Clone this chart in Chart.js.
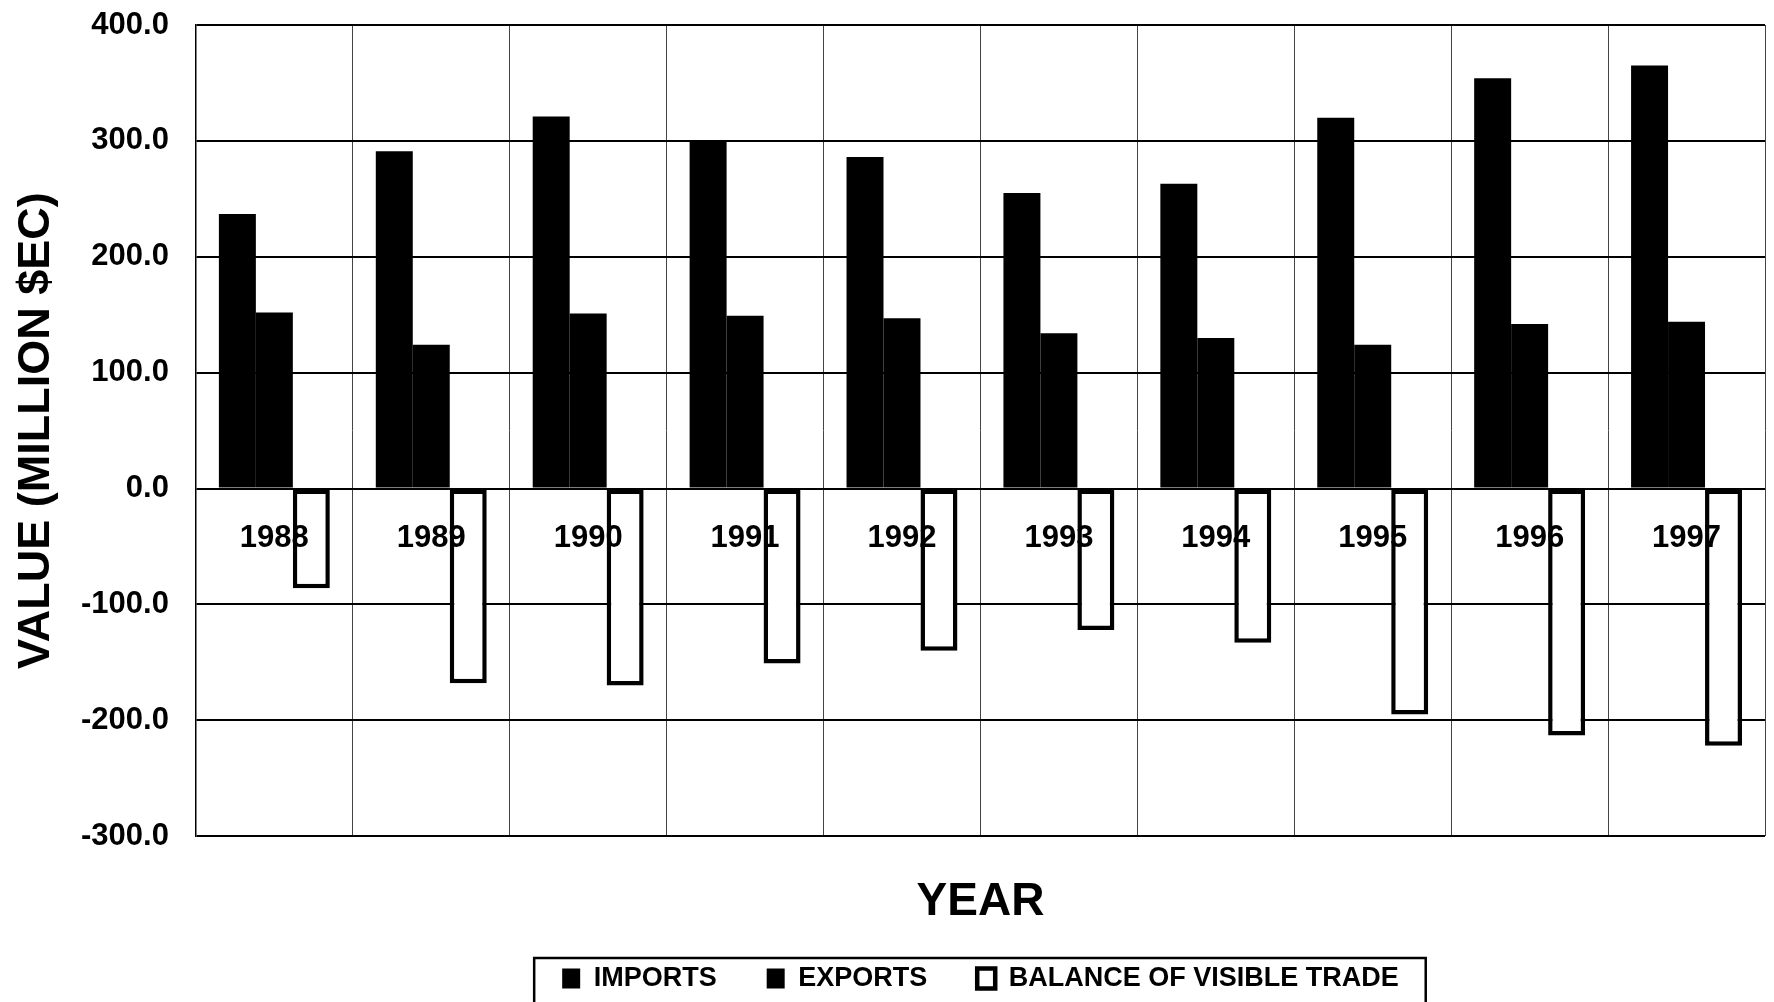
<!DOCTYPE html>
<html>
<head>
<meta charset="utf-8">
<script src="https://cdn.jsdelivr.net/npm/chart.js@4.4.1/dist/chart.umd.min.js"></script>
<style>
  html, body { margin: 0; padding: 0; background: #ffffff; }
  #wrap { width: 1774px; height: 1002px; position: relative; background: #ffffff; }
</style>
</head>
<body>
<div id="wrap"><canvas id="c"></canvas></div>
<script>
const years = ['1988', '1989', '1990', '1991', '1992', '1993', '1994', '1995', '1996', '1997'];
const imports = [237, 291, 321, 300, 286, 255, 263, 320, 354, 365];
const exports = [152, 124, 151, 149, 147, 134, 130, 124, 142, 144];
const balance = [-86, -168, -170, -151, -140, -122, -133, -195, -213, -222];
const yTickValues = [-300, -200, -100, 0, 100, 200, 300, 400];
const seriesNames = ['IMPORTS', 'EXPORTS', 'BALANCE OF VISIBLE TRADE'];

Chart.defaults.font.family = "'Liberation Sans', Arial, Helvetica, sans-serif";
Chart.defaults.color = '#000000';

const legendFrame = {
  id: 'legendFrame',
  afterDraw(chart) {
    const lg = chart.legend;
    if (!lg || !lg.legendHitBoxes || !lg.legendHitBoxes.length) return;
    const hb = lg.legendHitBoxes;
    const first = hb[0], last = hb[hb.length - 1];
    const left = first.left - 28;
    const right = last.left + last.width + 27;
    const top = first.top - 7;
    const ctx = chart.ctx;
    ctx.save();
    ctx.strokeStyle = '#000000';
    ctx.lineWidth = 2.5;
    ctx.strokeRect(left, top, right - left, chart.height - top + 10);
    ctx.restore();
  }
};

new Chart(document.getElementById('c'), {
  type: 'bar',
  data: {
    labels: years,
    datasets: [
      { label: seriesNames[0], data: imports, backgroundColor: '#000000', borderColor: '#000000', borderWidth: 0 },
      { label: seriesNames[1], data: exports, backgroundColor: '#000000', borderColor: '#000000', borderWidth: 0 },
      { label: seriesNames[2], data: balance, backgroundColor: '#ffffff', borderColor: '#000000', borderWidth: 4.5, borderSkipped: false }
    ]
  },
  options: {
    responsive: true,
    maintainAspectRatio: false,
    animation: false,
    events: [],
    categoryPercentage: 0.707,
    barPercentage: 1.0,
    layout: { padding: { top: 25, right: 9, left: 0, bottom: 0 } },
    plugins: {
      tooltip: { enabled: false },
      legend: {
        position: 'bottom',
        fullSize: false,
        labels: {
          boxWidth: 18,
          boxHeight: 20,
          padding: 50,
          color: '#000000',
          font: { size: 27, weight: 'bold' }
        }
      }
    },
    scales: {
      x: {
        type: 'category',
        offset: true,
        grid: { display: true, offset: true, color: '#444444', lineWidth: 1, drawTicks: false },
        border: { display: false },
        ticks: { display: false },
        title: {
          display: true,
          text: 'YEAR',
          color: '#000000',
          font: { size: 46, weight: 'bold', lineHeight: 0.3 },
          padding: { top: 59, bottom: 6 }
        }
      },
      x2: {
        type: 'category',
        axis: 'x',
        labels: years,
        offset: true,
        position: { y: 0 },
        grid: { display: false },
        border: { display: false },
        ticks: {
          z: 1,
          padding: 23,
          autoSkip: false,
          maxRotation: 0,
          minRotation: 0,
          color: '#000000',
          font: { size: 31, weight: 'bold' }
        }
      },
      y: {
        type: 'linear',
        min: -300,
        max: 400,
        afterBuildTicks(scale) {
          scale.ticks = yTickValues.map(v => ({ value: v }));
        },
        grid: { color: '#000000', lineWidth: 2, drawTicks: true, tickLength: 22, tickColor: 'rgba(0,0,0,0)' },
        border: { display: true, color: '#000000', width: 1.5 },
        ticks: {
          padding: 5,
          color: '#000000',
          font: { size: 31, weight: 'bold' },
          callback: (v) => Number(v).toFixed(1)
        },
        title: {
          display: true,
          text: 'VALUE (MILLION $EC)',
          color: '#000000',
          font: { size: 45, weight: 'bold' },
          padding: { top: 10, bottom: 12 }
        }
      }
    }
  },
  plugins: [legendFrame]
});
</script>
</body>
</html>
